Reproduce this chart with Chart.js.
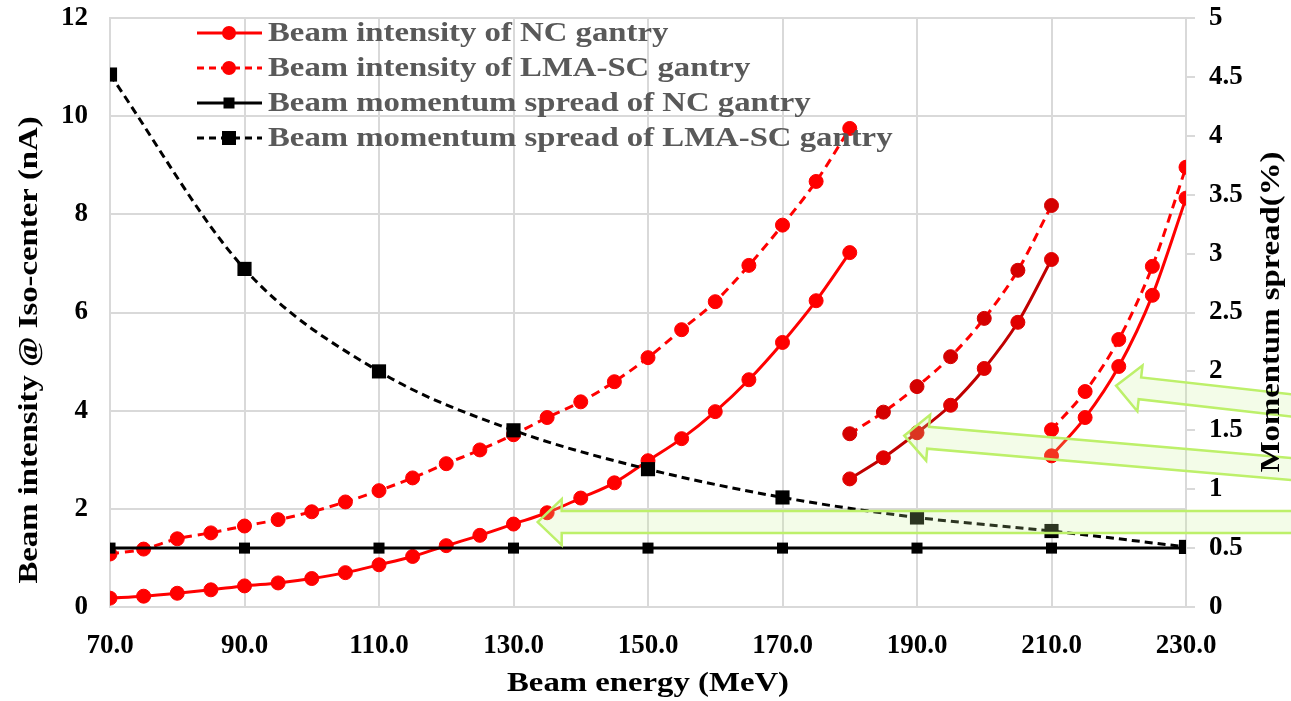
<!DOCTYPE html>
<html>
<head>
<meta charset="utf-8">
<script src="https://cdn.jsdelivr.net/npm/chart.js@4/dist/chart.umd.min.js"></script>
<style>
  html, body { margin: 0; padding: 0; background: #fff; }
  #wrap { width: 1291px; height: 701px; }
</style>
</head>
<body>
<div id="wrap"><canvas id="myChart" width="1291" height="701"></canvas></div>
<script>
// energies (MeV) of each gantry setting range
const energy1 = [70, 75, 80, 85, 90, 95, 100, 105, 110, 115, 120, 125, 130, 135, 140, 145, 150, 155, 160, 165, 170, 175, 180];
const energy2 = [180, 185, 190, 195, 200, 205, 210];
const energy3 = [210, 215, 220, 225, 230];
const spreadEnergy = [70, 90, 110, 130, 150, 170, 190, 210, 230];

// beam intensity @ iso-center (nA)
const ncIntensity1 = [0.18, 0.22, 0.28, 0.35, 0.43, 0.49, 0.58, 0.70, 0.86, 1.03, 1.25, 1.46, 1.69, 1.92, 2.22, 2.53, 2.98, 3.43, 3.98, 4.63, 5.39, 6.24, 7.22];
const scIntensity1 = [1.08, 1.18, 1.39, 1.51, 1.65, 1.78, 1.94, 2.14, 2.37, 2.63, 2.92, 3.20, 3.51, 3.86, 4.18, 4.59, 5.08, 5.65, 6.22, 6.96, 7.78, 8.67, 9.75];
const ncIntensity2 = [2.61, 3.04, 3.55, 4.11, 4.86, 5.80, 7.08];
const scIntensity2 = [3.53, 3.97, 4.49, 5.10, 5.88, 6.86, 8.18];
const ncIntensity3 = [3.08, 3.86, 4.90, 6.35, 8.33];
const scIntensity3 = [3.61, 4.39, 5.45, 6.94, 8.96];

// momentum spread (%)
const ncSpread = [0.5, 0.5, 0.5, 0.5, 0.5, 0.5, 0.5, 0.5, 0.5];
const scSpread = [4.52, 2.87, 2.00, 1.50, 1.17, 0.93, 0.76, 0.645, 0.51];

// tick labels
const xTicks = [70, 90, 110, 130, 150, 170, 190, 210, 230];
const leftTicks = [0, 2, 4, 6, 8, 10, 12];
const rightTicks = [0, 0.5, 1, 1.5, 2, 2.5, 3, 3.5, 4, 4.5, 5];

const legendLabels = [
    'Beam intensity of NC gantry',
    'Beam intensity of LMA-SC gantry',
    'Beam momentum spread of NC gantry',
    'Beam momentum spread of LMA-SC gantry'
];

// highlight arrows: tip and tail in data units (MeV, nA)
const arrowTips = [[133.6, 1.73], [188.1, 3.49], [219.6, 4.51]];
const arrowTails = [[250, 1.73], [250, 2.76], [250, 4.04]];

const toXY = (xs, ys) => xs.map((x, i) => ({ x: x, y: ys[i] }));

const FONT = '"Liberation Serif", "Times New Roman", serif';
const RED = '#ff0000';
const DARK_RED = '#c00000';
const GRID = '#d9d9d9';

function redSeries(xs, ys, dashed, lineColor, pointColor) {
    return {
        data: toXY(xs, ys),
        yAxisID: 'y',
        borderColor: lineColor,
        backgroundColor: pointColor,
        pointBorderColor: pointColor,
        borderWidth: 3,
        borderDash: dashed ? [9, 6] : [],
        pointStyle: 'circle',
        pointRadius: 7,
        pointBorderWidth: 1,
        tension: 0.4,
        cubicInterpolationMode: 'monotone'
    };
}

function stretched(ctx, text, x, y, sx, align, angle) {
    ctx.save();
    ctx.translate(x, y);
    if (angle) ctx.rotate(angle);
    ctx.scale(sx, 1);
    ctx.textAlign = align;
    ctx.fillText(text, 0, 0);
    ctx.restore();
}

// no extra room for half tick labels, chart area is fixed by layout
const noOverflow = scale => {
    scale.paddingTop = 0;
    scale.paddingBottom = 0;
    scale.paddingLeft = 0;
    scale.paddingRight = 0;
};

const overlay = {
    id: 'overlay',
    afterDatasetsDraw(chart) {
        const ctx = chart.ctx;
        const xs = chart.scales.x, ys = chart.scales.y;
        ctx.save();
        arrowTips.forEach((tipV, i) => {
            const tailV = arrowTails[i];
            const tx = xs.getPixelForValue(tipV[0]), ty = ys.getPixelForValue(tipV[1]);
            const ex = xs.getPixelForValue(tailV[0]), ey = ys.getPixelForValue(tailV[1]);
            const len = Math.hypot(ex - tx, ey - ty);
            const ux = (ex - tx) / len, uy = (ey - ty) / len;
            const nx = -uy, ny = ux;
            const body = 11, head = 23, headLen = 24;
            const bx = tx + ux * headLen, by = ty + uy * headLen;
            ctx.beginPath();
            ctx.moveTo(tx, ty);
            ctx.lineTo(bx + nx * head, by + ny * head);
            ctx.lineTo(bx + nx * body, by + ny * body);
            ctx.lineTo(ex + nx * body, ey + ny * body);
            ctx.lineTo(ex - nx * body, ey - ny * body);
            ctx.lineTo(bx - nx * body, by - ny * body);
            ctx.lineTo(bx - nx * head, by - ny * head);
            ctx.closePath();
            ctx.fillStyle = 'rgba(200, 240, 150, 0.22)';
            ctx.fill();
            ctx.strokeStyle = '#bdf06a';
            ctx.lineWidth = 2.5;
            ctx.stroke();
        });
        ctx.restore();
    },
    afterDraw(chart) {
        const ctx = chart.ctx;
        const area = chart.chartArea;
        const sx = 1.17;
        ctx.save();

        // legend
        ctx.font = 'bold 28px ' + FONT;
        ctx.textBaseline = 'middle';
        legendLabels.forEach((label, i) => {
            const y = 33 + i * 35;
            const isRed = i < 2;
            const dashed = i % 2 === 1;
            const color = isRed ? RED : '#000';
            ctx.strokeStyle = color;
            ctx.lineWidth = 3;
            ctx.setLineDash(dashed ? [7, 5] : []);
            ctx.beginPath();
            ctx.moveTo(197, y);
            ctx.lineTo(262, y);
            ctx.stroke();
            ctx.setLineDash([]);
            ctx.fillStyle = color;
            if (isRed) {
                ctx.beginPath();
                ctx.arc(229, y, 7, 0, Math.PI * 2);
                ctx.fill();
            } else {
                const s = dashed ? 14 : 11;
                ctx.fillRect(229 - s / 2, y - s / 2, s, s);
            }
            ctx.fillStyle = '#595959';
            stretched(ctx, label, 268, y + 1, sx, 'left');
        });

        // axis titles
        ctx.fillStyle = '#000';
        ctx.font = 'bold 28px ' + FONT;
        ctx.textBaseline = 'middle';
        stretched(ctx, 'Beam energy (MeV)', (area.left + area.right) / 2, 684, sx, 'center');
        stretched(ctx, 'Beam intensity @ Iso-center (nA)', 30, 350, sx, 'center', -Math.PI / 2);
        stretched(ctx, 'Momentum spread(%)', 1272, 312, sx, 'center', -Math.PI / 2);
        ctx.restore();
    }
};

const ctx = document.getElementById('myChart').getContext('2d');

new Chart(ctx, {
    type: 'line',
    data: {
        datasets: [
            {
                data: toXY(spreadEnergy, scSpread),
                yAxisID: 'y2',
                borderColor: '#000',
                backgroundColor: '#000',
                borderWidth: 3,
                borderDash: [8, 5],
                pointStyle: 'rect',
                pointRadius: 10,
                pointBorderWidth: 0,
                tension: 0.4,
                cubicInterpolationMode: 'monotone'
            },
            {
                data: toXY(spreadEnergy, ncSpread),
                yAxisID: 'y2',
                borderColor: '#000',
                backgroundColor: '#000',
                borderWidth: 3,
                pointStyle: 'rect',
                pointRadius: 7.8,
                pointBorderWidth: 0
            },
            redSeries(energy1, ncIntensity1, false, RED, RED),
            redSeries(energy1, scIntensity1, true, RED, RED),
            redSeries(energy2, ncIntensity2, false, DARK_RED, '#e00000'),
            redSeries(energy2, scIntensity2, true, RED, '#d40000'),
            redSeries(energy3, ncIntensity3, false, RED, RED),
            redSeries(energy3, scIntensity3, true, RED, RED)
        ]
    },
    options: {
        responsive: false,
        animation: false,
        layout: { padding: { top: 18, left: 0, right: 0, bottom: 0 } },
        plugins: {
            legend: { display: false },
            tooltip: { enabled: false }
        },
        scales: {
            x: {
                type: 'linear',
                min: 70,
                max: 230,
                afterFit: scale => { scale.height = 94; noOverflow(scale); },
                afterBuildTicks: scale => {
                    scale.ticks = xTicks.map(v => ({ value: v }));
                },
                ticks: {
                    padding: 23,
                    color: '#000',
                    font: { family: FONT, size: 27, weight: 'bold' },
                    callback: v => Number(v).toFixed(1)
                },
                grid: { color: GRID, lineWidth: 2, drawTicks: false },
                border: { color: GRID, width: 2 }
            },
            y: {
                position: 'left',
                min: 0,
                max: 12,
                afterFit: scale => { scale.width = 110; noOverflow(scale); },
                afterBuildTicks: scale => {
                    scale.ticks = leftTicks.map(v => ({ value: v }));
                },
                ticks: {
                    padding: 22,
                    color: '#000',
                    font: { family: FONT, size: 27, weight: 'bold' }
                },
                grid: { color: GRID, lineWidth: 2, drawTicks: false },
                border: { color: GRID, width: 2 }
            },
            y2: {
                position: 'right',
                min: 0,
                max: 5,
                afterFit: scale => { scale.width = 105; noOverflow(scale); },
                afterBuildTicks: scale => {
                    scale.ticks = rightTicks.map(v => ({ value: v }));
                },
                ticks: {
                    padding: 14,
                    color: '#000',
                    font: { family: FONT, size: 27, weight: 'bold' },
                    callback: v => String(v)
                },
                grid: { drawOnChartArea: false, color: GRID, lineWidth: 2, tickLength: 9 },
                border: { color: GRID, width: 2 }
            }
        }
    },
    plugins: [overlay]
});
</script>
</body>
</html>
